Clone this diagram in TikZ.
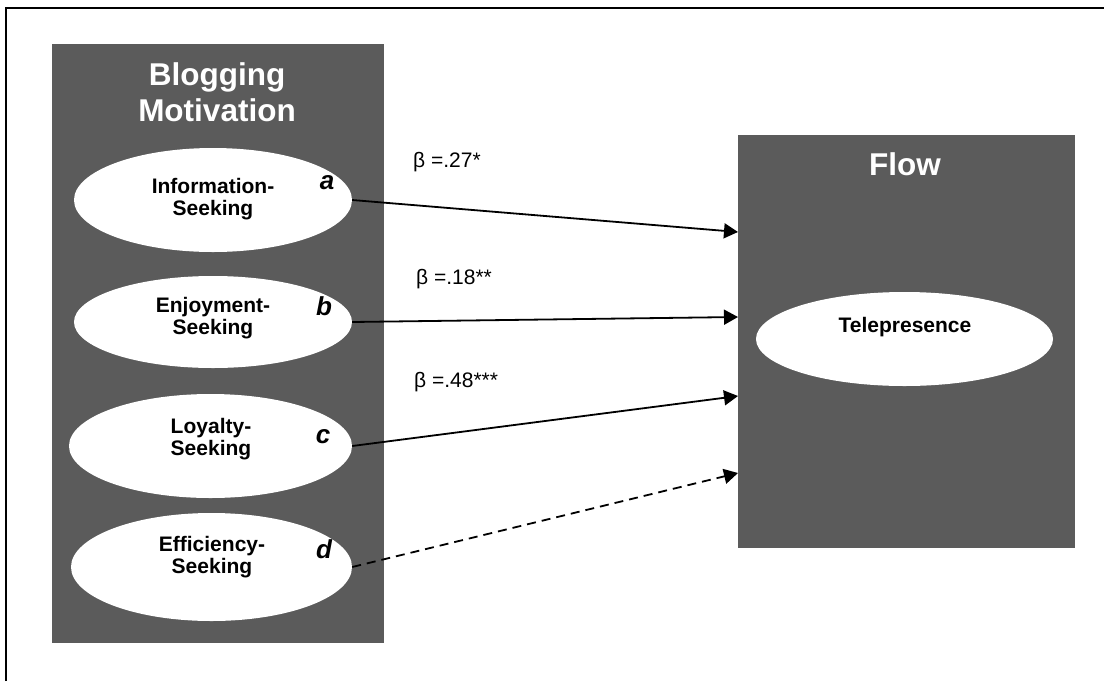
\documentclass[tikz,border=0pt]{standalone}
\usepackage{fontspec}
\setmainfont{Liberation Sans}
\usetikzlibrary{shapes.geometric,arrows.meta}
\definecolor{panel}{HTML}{5B5B5B}
\begin{document}
\begin{tikzpicture}[x=1pt,y=-1pt,
  panelbox/.style={fill=panel,draw=none},
  oval/.style={ellipse,fill=white,draw=none,inner sep=0pt},
  heading/.style={text=white,font=\bfseries\fontsize{31.5}{36}\selectfont,align=center,anchor=base,inner sep=0pt},
  ovaltext/.style={font=\bfseries\fontsize{21}{21.5}\selectfont,align=center,anchor=base,inner sep=0pt},
  tag/.style={font=\bfseries\itshape\fontsize{26}{26}\selectfont,anchor=base,inner sep=0pt},
  beta/.style={font=\fontsize{21}{21}\selectfont,anchor=base west,inner sep=0pt},
  path/.style={line width=1.8pt,-{Triangle[length=14pt,width=15pt]}}]
\useasboundingbox (0,0) rectangle (1104,681);
% frame: only top and left edges are drawn
\draw[line width=2pt] (6,681) -- (6,8) -- (1104,8);

% panels
\node[panelbox,minimum width=332pt,minimum height=599pt,anchor=north west,inner sep=0pt] (motiv) at (52,44) {};
\node[panelbox,minimum width=337pt,minimum height=413pt,anchor=north west,inner sep=0pt] (flow) at (738,135) {};

% headings (multi-line nodes sit on the baseline of their last line)
\node[heading] (motivtitle) at (217,121) {Blogging\\Motivation};
\node[heading] (flowtitle) at (905,175) {Flow};

% motivation constructs
\node[oval,minimum width=278pt,minimum height=104pt] (ia) at (213,200) {};
\node[oval,minimum width=278pt,minimum height=92pt]  (en) at (213,322) {};
\node[oval,minimum width=283pt,minimum height=104pt] (lo) at (210.5,446) {};
\node[oval,minimum width=281pt,minimum height=108pt] (ef) at (211.5,567) {};
\node[oval,minimum width=297pt,minimum height=94pt]  (tp) at (904.5,339) {};

\node[ovaltext] (ialab) at (213,215) {Information-\\Seeking};
\node[ovaltext] (enlab) at (213,334) {Enjoyment-\\Seeking};
\node[ovaltext] (lolab) at (211,455) {Loyalty-\\Seeking};
\node[ovaltext] (eflab) at (212,573) {Efficiency-\\Seeking};
\node[ovaltext] (tplab) at (905,332) {Telepresence};

\node[tag] (ta) at (327,189) {a};
\node[tag] (tb) at (324,315) {b};
\node[tag] (tc) at (323,443) {c};
\node[tag] (td) at (324,558) {d};

% path coefficients
\node[beta] (ba) at (413,167) {β =.27*};
\node[beta] (bb) at (416,284) {β =.18**};
\node[beta] (bc) at (414,387) {β =.48***};

% arrow targets on the Flow panel
\coordinate (fa) at (738,232);
\coordinate (fb) at (738,317);
\coordinate (fc) at (738,396);
\coordinate (fd) at (738,473);

\draw[path] (ia.east) -- (fa);
\draw[path] (en.east) -- (fb);
\draw[path] (lo.east) -- (fc);
\draw[path,dash pattern=on 9pt off 6pt] (ef.east) -- (fd);
\end{tikzpicture}
\end{document}
